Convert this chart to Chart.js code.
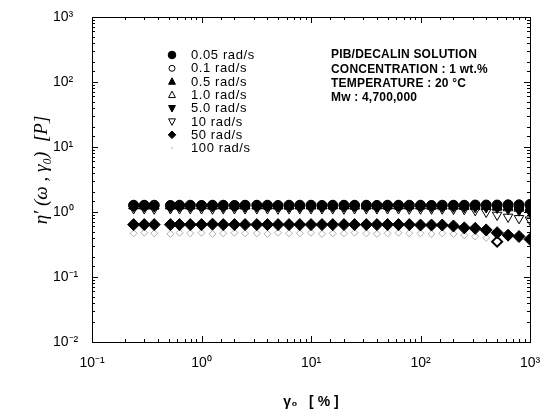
<!DOCTYPE html>
<html><head><meta charset="utf-8">
<script src="https://cdn.jsdelivr.net/npm/chart.js@4"></script>
<style>html,body{margin:0;padding:0;background:#fff}#wrap{width:555px;height:412px;position:relative}</style>
</head><body><div id="wrap"><canvas id="c"></canvas></div>
<script>
// strain amplitude γ0 [%]
const strain = [0.24,0.3,0.37,0.52,0.63,0.79,1.0,1.26,1.58,2.0,2.5,3.2,4.0,5.0,6.3,7.9,10,12.6,15.8,20,25,32,40,50,63,79,100,126,158,200,251,316,398,501,631,794,1000];
const seriesLabels = ['0.05 rad/s','0.1 rad/s','0.5 rad/s','1.0 rad/s','5.0 rad/s','10 rad/s','50 rad/s','100 rad/s'];
const eta_005 = [1.27,1.27,1.27,1.26,1.27,1.27,1.26,1.27,1.27,1.26,1.27,1.27,1.27,1.26,1.27,1.27,1.27,1.26,1.27,1.27,1.27,1.27,1.26,1.27,1.27,1.27,1.27,1.26,1.27,1.27,1.27,1.28,1.28,1.28,1.29,1.29,1.31];
const eta_01  = [1.25,1.25,1.26,1.25,1.25,1.25,1.26,1.25,1.25,1.25,1.25,1.26,1.25,1.25,1.25,1.25,1.26,1.25,1.25,1.25,1.25,1.25,1.26,1.25,1.25,1.25,1.25,1.25,1.25,1.26,1.25,1.25,1.25,1.24,1.24,1.23,1.22];
const eta_05  = [1.24,1.24,1.24,1.24,1.25,1.24,1.24,1.24,1.24,1.25,1.24,1.24,1.24,1.24,1.24,1.25,1.24,1.24,1.24,1.24,1.24,1.24,1.25,1.24,1.24,1.24,1.24,1.24,1.24,1.24,1.23,1.23,1.22,1.21,1.20,1.18,1.16];
const eta_1   = [1.23,1.23,1.22,1.23,1.23,1.23,1.23,1.22,1.23,1.23,1.23,1.23,1.23,1.23,1.22,1.23,1.23,1.23,1.23,1.23,1.22,1.23,1.23,1.23,1.23,1.23,1.23,1.22,1.22,1.22,1.21,1.20,1.19,1.17,1.15,1.13,1.10];
const eta_5   = [1.21,1.21,1.21,1.20,1.21,1.21,1.21,1.21,1.20,1.21,1.21,1.21,1.21,1.21,1.21,1.20,1.21,1.21,1.21,1.21,1.21,1.21,1.20,1.21,1.21,1.21,1.21,1.20,1.20,1.20,1.19,1.18,1.17,1.15,1.10,1.05,1.00];
const eta_10  = [1.13,1.13,1.12,1.13,1.13,1.13,1.13,1.12,1.13,1.13,1.13,1.13,1.13,1.12,1.13,1.13,1.13,1.13,1.13,1.12,1.13,1.13,1.13,1.13,1.13,1.12,1.12,1.12,1.12,1.11,1.10,1.06,1.00,0.90,0.84,0.80,0.76];
const eta_50  = [0.64,0.64,0.64,0.64,0.64,0.64,0.64,0.65,0.64,0.64,0.64,0.64,0.64,0.64,0.64,0.64,0.64,0.64,0.64,0.64,0.64,0.64,0.64,0.64,0.64,0.64,0.63,0.63,0.63,0.61,0.57,0.56,0.53,0.48,0.44,0.42,0.38];
const eta_100 = [0.47,0.48,0.47,0.46,0.48,0.47,0.48,0.46,0.47,0.48,0.47,0.47,0.46,0.48,0.47,0.47,0.48,0.46,0.47,0.47,0.48,0.47,0.46,0.47,0.48,0.47,0.47,0.46,0.47,0.46,0.44,0.42,0.40,0.35,null,null,null];
const xTickValues = [0.1,1,10,100,1000];
const xTickLabels = ['10\u207B\u00B9','10\u2070','10\u00B9','10\u00B2','10\u00B3'];
const yTickValues = [0.01,0.1,1,10,100,1000];
const yTickLabels = ['10\u207B\u00B2','10\u207B\u00B9','10\u2070','10\u00B9','10\u00B2','10\u00B3'];
const infoLines = ['PIB/DECALIN SOLUTION','CONCENTRATION : 1 wt.%','TEMPERATURE : 20 \u00B0C','Mw : 4,700,000'];

const allEta = [eta_005,eta_01,eta_05,eta_1,eta_5,eta_10,eta_50,eta_100];
const toPts = arr => strain.map((x,i)=>({x:x,y:arr[i]})).filter(p=>p.y!==null);

const styles = [
  {pointStyle:'circle', rotation:0, fill:'#000', border:'#000', r:5, order:1},
  {pointStyle:'circle', rotation:0, fill:'#fff', border:'#000', r:4.5, order:7},
  {pointStyle:'triangle', rotation:0, fill:'#000', border:'#000', r:5.5, order:3},
  {pointStyle:'triangle', rotation:0, fill:'#fff', border:'#000', r:5.5, order:6},
  {pointStyle:'triangle', rotation:180, fill:'#000', border:'#000', r:5.5, order:2},
  {pointStyle:'triangle', rotation:180, fill:'#fff', border:'#000', r:5.5, order:5},
  {pointStyle:'rectRot', rotation:0, fill:'#000', border:'#000', r:6, order:4},
  {pointStyle:'rectRot', rotation:0, fill:'rgba(255,255,255,0)', border:'#9a9a9a', r:3.5, order:8}
];

const datasets = allEta.map((arr,k)=>{
  const s = styles[k];
  const n = toPts(arr).length;
  return {
    label: seriesLabels[k],
    data: toPts(arr),
    showLine:false,
    order:s.order,
    pointStyle:s.pointStyle,
    rotation:s.rotation,
    backgroundColor:s.fill,
    pointBackgroundColor:s.fill,
    borderColor:s.border,
    pointBorderColor: k===7 ? (c=>c.dataIndex===n-1?'#000':s.border) : s.border,
    pointBorderWidth: k===7 ? (c=>c.dataIndex===n-1?2:0.8) : 1,
    pointRadius: k===7 ? (c=>c.dataIndex===n-1?5:s.r) : s.r,
    pointHoverRadius:s.r
  };
});

function drawMarker(ctx,st,x,y,r){
  ctx.save();
  ctx.fillStyle=st.fill; ctx.strokeStyle=st.border; ctx.lineWidth=1;
  ctx.beginPath();
  if(st.pointStyle==='circle'){ctx.arc(x,y,r,0,Math.PI*2);}
  else if(st.pointStyle==='triangle'){
    const s = st.rotation===180?-1:1;
    ctx.moveTo(x,y-s*r); ctx.lineTo(x+r*0.9,y+s*r*0.7); ctx.lineTo(x-r*0.9,y+s*r*0.7); ctx.closePath();
  } else {ctx.moveTo(x,y-r);ctx.lineTo(x+r,y);ctx.lineTo(x,y+r);ctx.lineTo(x-r,y);ctx.closePath();}
  ctx.fill(); ctx.stroke(); ctx.restore();
}

const framePlugin = {
  id:'frame',
  afterDatasetsDraw(chart){
    const {ctx, chartArea:a, scales} = chart;
    ctx.save();
    ctx.strokeStyle='#000'; ctx.lineWidth=1;
    ctx.strokeRect(Math.round(a.left)+0.5,Math.round(a.top)+0.5,Math.round(a.right-a.left),Math.round(a.bottom-a.top));
    const isMajor = v => Math.abs(Math.log10(v)-Math.round(Math.log10(v)))<1e-6;
    ctx.beginPath();
    scales.x.ticks.forEach(t=>{
      const px = Math.round(scales.x.getPixelForValue(t.value))+0.5;
      if(px<a.left-1||px>a.right+1) return;
      const L = isMajor(t.value)?6:3;
      ctx.moveTo(px,a.bottom); ctx.lineTo(px,a.bottom-L);
      ctx.moveTo(px,a.top); ctx.lineTo(px,a.top+L);
    });
    scales.y.ticks.forEach(t=>{
      const py = Math.round(scales.y.getPixelForValue(t.value))+0.5;
      if(py<a.top-1||py>a.bottom+1) return;
      const L = isMajor(t.value)?6:3;
      ctx.moveTo(a.left,py); ctx.lineTo(a.left+L,py);
      ctx.moveTo(a.right,py); ctx.lineTo(a.right-L,py);
    });
    ctx.stroke();
    // legend
    ctx.font='13px "Liberation Sans", Arial, sans-serif';
    ctx.textBaseline='middle'; ctx.textAlign='left'; ctx.fillStyle='#000';
    try{ctx.letterSpacing='0.6px';}catch(e){}
    seriesLabels.forEach((lab,k)=>{
      const y = 55 + k*13.3;
      const st = styles[k];
      if(k===7){ ctx.save(); ctx.fillStyle='#bbb'; ctx.fillRect(171,y-1,1.5,1.5); ctx.restore(); }
      else drawMarker(ctx,st,172,y,k===1?3:3.8);
      ctx.fillText(lab,191,y+0.5);
    });
    ctx.font='bold 12px "Liberation Sans", Arial, sans-serif';
    try{ctx.letterSpacing='0.2px';}catch(e){}
    infoLines.forEach((t,i)=>{ ctx.fillText(t,331,55+i*14.2); });
    ctx.restore();
  }
};

new Chart(document.getElementById('c'),{
  type:'scatter',
  data:{datasets},
  plugins:[framePlugin],
  options:{
    responsive:true, maintainAspectRatio:false, animation:false,
    layout:{padding:{top:17,right:25,left:53,bottom:0}},
    plugins:{legend:{display:false},tooltip:{enabled:false}},
    scales:{
      x:{type:'logarithmic',min:0.1,max:1000,
        grid:{display:false,drawTicks:false},border:{display:false},
        afterFit:s=>{s.height=70;},
        ticks:{autoSkip:false,maxRotation:0,padding:13,color:'#000',
          font:{family:'"Liberation Sans", Arial, sans-serif',size:14},
          callback:(v)=>{const i=xTickValues.findIndex(t=>Math.abs(t-v)/t<1e-6);return i>=0?xTickLabels[i]:'';}},
        title:{display:true,text:'\u03B3\u2080   [ % ]',color:'#000',
          font:{family:'"Liberation Sans", Arial, sans-serif',size:14,weight:'bold'},padding:{top:0,bottom:1}}
      },
      y:{type:'logarithmic',min:0.01,max:1000,
        grid:{display:false,drawTicks:false},border:{display:false},
        afterFit:s=>{s.width=39;},
        ticks:{autoSkip:false,crossAlign:'far',padding:0,color:'#000',
          font:{family:'"Liberation Sans", Arial, sans-serif',size:14},
          callback:(v)=>{const i=yTickValues.findIndex(t=>Math.abs(t-v)/t<1e-6);return i>=0?yTickLabels[i]:'';}},
        title:{display:true,text:'    \u03B7\u2032 (\u03C9 , \u03B3\u2080)  [P]',color:'#000',
          font:{family:'"Liberation Serif", "Times New Roman", serif',size:19,style:'italic'},padding:{top:-22,bottom:0}}
      }
    }
  }
});
</script></body></html>
